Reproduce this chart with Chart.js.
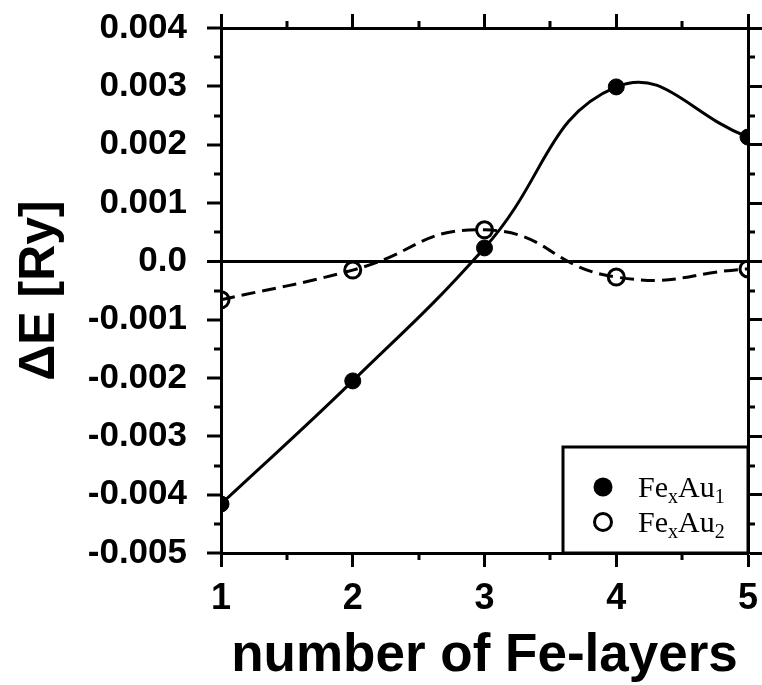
<!DOCTYPE html>
<html>
<head>
<meta charset="utf-8">
<script src="https://cdn.jsdelivr.net/npm/chart.js@4.4.1/dist/chart.umd.min.js"></script>
<style>
  body { margin: 0; background: #fff; }
  canvas { display: block; }
</style>
</head>
<body>
<canvas id="chart" width="762" height="685"></canvas>
<script>
// number of Fe layers
const layers = [1, 2, 3, 4, 5];
// energy differences in Ry
const feAu1 = [-0.00416, -0.00205, 0.00023, 0.00299, 0.00213];
const feAu2 = [-0.00066, -0.00015, 0.00054, -0.00027, -0.00013];
const yTicks = [-0.005, -0.004, -0.003, -0.002, -0.001, 0, 0.001, 0.002, 0.003, 0.004];
const xMinor = [1.5, 2.5, 3.5, 4.5];
const yMinor = [-0.0045, -0.0035, -0.0025, -0.0015, -0.0005, 0.0005, 0.0015, 0.0025, 0.0035];

const toPoints = (ys) => ys.map((y, i) => ({ x: layers[i], y: y }));

const sansBold = (size) => ({ family: "'Liberation Sans', Arial, sans-serif", size: size, weight: "bold" });

// minor ticks on all four sides and the legend box
const extras = {
  id: "extras",
  afterDraw(chart) {
    const ctx = chart.ctx;
    const a = chart.chartArea;
    const xs = chart.scales.x;
    const ys = chart.scales.y;
    ctx.save();
    ctx.strokeStyle = "#000";
    ctx.lineWidth = 3;
    ctx.beginPath();
    xMinor.forEach(v => {
      const px = Math.round(xs.getPixelForValue(v));
      ctx.moveTo(px, a.bottom); ctx.lineTo(px, a.bottom + 7);
      ctx.moveTo(px, a.top); ctx.lineTo(px, a.top - 7);
    });
    yMinor.forEach(v => {
      const py = Math.round(ys.getPixelForValue(v));
      ctx.moveTo(a.left, py); ctx.lineTo(a.left - 7, py);
      ctx.moveTo(a.right, py); ctx.lineTo(a.right + 7, py);
    });
    ctx.stroke();

    // legend
    const w = 185, h = 106;
    const lx = a.right - w, ly = a.bottom - h;
    ctx.fillStyle = "#fff";
    ctx.fillRect(lx, ly, w, h);
    ctx.strokeRect(lx, ly, w, h);

    ctx.fillStyle = "#000";
    ctx.beginPath();
    ctx.arc(lx + 40, ly + 40, 9.5, 0, Math.PI * 2);
    ctx.fill();
    ctx.beginPath();
    ctx.arc(lx + 40, ly + 75, 8.5, 0, Math.PI * 2);
    ctx.stroke();

    const label = (x, y, sub) => {
      const big = "30px 'Liberation Serif', 'Times New Roman', serif";
      const small = "20px 'Liberation Serif', 'Times New Roman', serif";
      ctx.textBaseline = "alphabetic";
      ctx.textAlign = "left";
      ctx.font = big; ctx.fillText("Fe", x, y); x += ctx.measureText("Fe").width;
      ctx.font = small; ctx.fillText("x", x, y + 6); x += ctx.measureText("x").width;
      ctx.font = big; ctx.fillText("Au", x, y); x += ctx.measureText("Au").width;
      ctx.font = small; ctx.fillText(sub, x, y + 6);
    };
    label(lx + 75, ly + 50, "1");
    label(lx + 75, ly + 85, "2");
    ctx.restore();
  }
};

const majorGrid = { drawOnChartArea: false, drawTicks: true, tickLength: 14, tickWidth: 3, tickColor: "#000" };
const axisBorder = { display: true, width: 3, color: "#000" };

new Chart(document.getElementById("chart"), {
  type: "line",
  data: {
    datasets: [
      {
        label: "FexAu1",
        data: toPoints(feAu1),
        borderColor: "#000",
        borderWidth: 3,
        backgroundColor: "#000",
        pointRadius: 8,
        pointBorderWidth: 1,
        tension: 0.45
      },
      {
        label: "FexAu2",
        data: toPoints(feAu2),
        borderColor: "#000",
        borderWidth: 3,
        borderDash: [14, 7],
        backgroundColor: "rgba(0,0,0,0)",
        pointRadius: 8,
        pointBorderWidth: 3,
        tension: 0.5
      }
    ]
  },
  options: {
    responsive: false,
    animation: false,
    layout: { padding: 0 },
    plugins: { legend: { display: false }, tooltip: { enabled: false } },
    scales: {
      x: {
        type: "linear",
        position: "bottom",
        min: 1, max: 5,
        afterFit: s => { s.height = 132; s.paddingLeft = 0; s.paddingRight = 0; },
        ticks: { stepSize: 1, color: "#000", font: sansBold(36), padding: 10 },
        grid: majorGrid,
        border: axisBorder,
        title: {
          display: true,
          text: "number of Fe-layers",
          color: "#000",
          font: Object.assign(sansBold(53), { lineHeight: 1 }),
          padding: { top: 0, bottom: 2 }
        }
      },
      x2: {
        type: "linear",
        position: "top",
        min: 1, max: 5,
        afterFit: s => { s.height = 28; },
        ticks: { stepSize: 1, display: false },
        grid: majorGrid,
        border: axisBorder
      },
      y: {
        type: "linear",
        position: "left",
        min: -0.005, max: 0.004,
        afterFit: s => { s.width = 221; s.paddingTop = 0; s.paddingBottom = 0; },
        afterBuildTicks: s => { s.ticks = yTicks.map(v => ({ value: v })); },
        ticks: {
          color: "#000",
          font: sansBold(35),
          padding: 20,
          callback: v => Math.abs(v) < 1e-9 ? "0.0" : v.toFixed(3)
        },
        grid: {
          drawOnChartArea: true,
          drawTicks: true,
          tickLength: 14,
          tickWidth: 3,
          tickColor: "#000",
          lineWidth: c => (c.tick && Math.abs(c.tick.value) < 1e-9) ? 3 : 0,
          color: c => (c.tick && Math.abs(c.tick.value) < 1e-9) ? "#000" : "rgba(0,0,0,0)"
        },
        border: axisBorder,
        title: {
          display: true,
          text: "ΔE [Ry]",
          color: "#000",
          font: Object.assign(sansBold(50), { lineHeight: 1 }),
          padding: { top: 15, bottom: 0 }
        }
      },
      y2: {
        type: "linear",
        position: "right",
        min: -0.005, max: 0.004,
        afterFit: s => { s.width = 14; },
        afterBuildTicks: s => { s.ticks = yTicks.map(v => ({ value: v })); },
        ticks: { display: false },
        grid: majorGrid,
        border: axisBorder
      }
    }
  },
  plugins: [extras]
});
</script>
</body>
</html>
